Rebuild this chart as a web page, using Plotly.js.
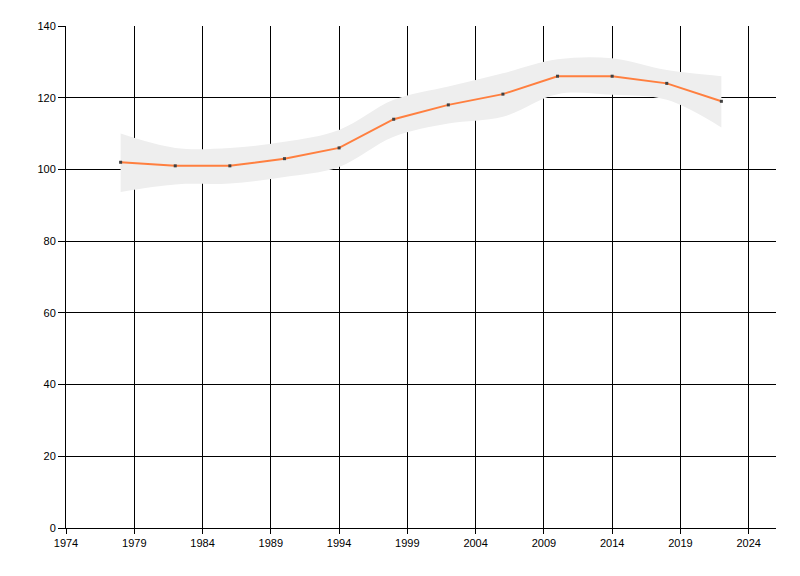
<!DOCTYPE html>
<html>
<head>
<meta charset="utf-8">
<script src="https://cdn.plot.ly/plotly-3.0.1.min.js"></script>
<style>html,body{margin:0;padding:0;background:#fff;}#chart{width:800px;height:576px;}</style>
</head>
<body>
<div id="chart"></div>
<script>
const years = [1978, 1982, 1986, 1990, 1994, 1998, 2002, 2006, 2010, 2014, 2018, 2022];
const values = [102, 101, 101, 103, 106, 114, 118, 121, 126, 126, 124, 119];
const upperBand = [110, 106, 106, 107.7, 111, 119.4, 123.1, 126.8, 130.7, 131, 127.7, 126];
const lowerBand = [93.7, 95.8, 96.1, 97.9, 100.7, 109.1, 112.8, 114.7, 121, 120.8, 119.4, 111.7];
const xTicks = [1974, 1979, 1984, 1989, 1994, 1999, 2004, 2009, 2014, 2019, 2024];
const yTicks = [0, 20, 40, 60, 80, 100, 120, 140];

const traces = [
  {x: years, y: lowerBand, mode: 'lines', line: {width: 0, shape: 'spline', smoothing: 1}, hoverinfo: 'skip', showlegend: false},
  {x: years, y: upperBand, mode: 'lines', fill: 'tonexty', fillcolor: '#eeeeee', line: {width: 0, shape: 'spline', smoothing: 1}, hoverinfo: 'skip', showlegend: false},
  {x: years, y: values, mode: 'lines+markers', line: {color: '#ff7f3f', width: 2}, marker: {symbol: 'square', size: 3, color: '#404040'}, showlegend: false}
];

const axisFont = {family: 'Liberation Sans, Arial, sans-serif', size: 11, color: '#000'};
const layout = {
  width: 800, height: 576,
  margin: {l: 66, r: 24, t: 26, b: 48},
  paper_bgcolor: '#fff', plot_bgcolor: '#fff',
  showlegend: false,
  xaxis: {
    range: [1974, 2026], tickvals: xTicks, ticktext: xTicks.map(String),
    showgrid: true, gridcolor: '#000', gridwidth: 1,
    showline: true, linecolor: '#000', linewidth: 1,
    ticks: 'outside', ticklen: 5, tickcolor: '#000',
    tickfont: axisFont, zeroline: false
  },
  yaxis: {
    range: [0, 140], tickvals: yTicks, ticktext: yTicks.map(String),
    showgrid: true, gridcolor: '#000', gridwidth: 1,
    showline: true, linecolor: '#000', linewidth: 1,
    ticks: 'outside', ticklen: 7, tickcolor: '#000',
    tickfont: axisFont, zeroline: false
  }
};
Plotly.newPlot('chart', traces, layout, {displayModeBar: false, staticPlot: true});
</script>
</body>
</html>
